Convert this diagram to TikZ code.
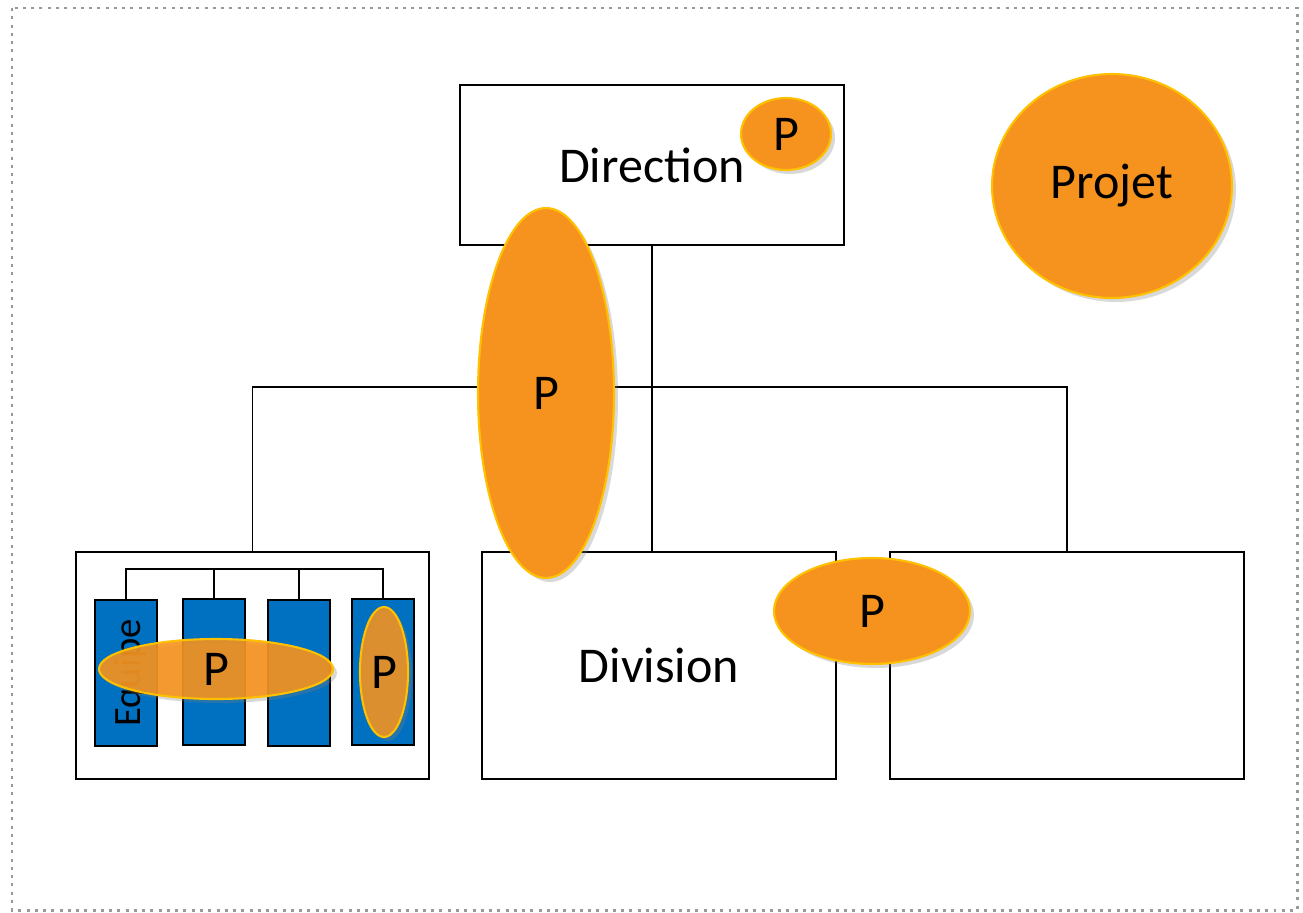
\documentclass[tikz,border=0pt]{standalone}
\usepackage{fontspec}
\setmainfont{Carlito}
\usetikzlibrary{shapes.geometric,shadows}
\definecolor{projorange}{RGB}{246,147,30}
\definecolor{projgold}{RGB}{255,192,0}
\definecolor{teamblue}{RGB}{0,112,192}

\begin{document}
\begin{tikzpicture}[x=0.02cm, y=-0.02cm,
    orgbox/.style={draw, line width=1.1pt, fill=white, font=\fontsize{28.5}{34}\selectfont},
    teambox/.style={draw, line width=1.1pt, fill=teamblue, minimum width=1.24cm, minimum height=2.92cm, inner sep=0pt},
    proj/.style={ellipse, draw=projgold, line width=1.2pt, fill=projorange, inner sep=0pt,
        drop shadow={opacity=0.3, shadow xshift=0.8mm, shadow yshift=-0.8mm},
        font=\fontsize{28.5}{34}\selectfont}]
    \useasboundingbox (0,0) rectangle (1303,913);
    \draw[gray!80, line width=1.7pt, dash pattern=on 1.7pt off 3pt] (12,8) rectangle (1297,910);

    % organisation
    \node[orgbox, minimum width=7.68cm, minimum height=3.2cm] (dir) at (652,165) {\raisebox{-2pt}{Direction}};
    \node[orgbox, minimum width=7.06cm, minimum height=4.54cm] (left) at (252.5,665.5) {};
    \node[orgbox, minimum width=7.08cm, minimum height=4.54cm] (div) at (659,665.5) {\raisebox{-2pt}{Division}};
    \node[orgbox, minimum width=7.08cm, minimum height=4.54cm] (right) at (1067,665.5) {};
    \coordinate (bus) at (652,387);
    \draw[line width=1.1pt] (dir.south) -- (dir.south |- div.north);
    \draw[line width=1.1pt] (left.north) |- (bus) -| (right.north);

    % teams
    \node[teambox] (t1) at (126,673) {};
    \node[teambox] (t2) at (214,672) {};
    \node[teambox] (t3) at (299,673) {};
    \node[teambox] (t4) at (383,672) {};
    \node[rotate=90, font=\fontsize{22}{26}\selectfont] (equipe) at (130,673) {Equipe};
    \coordinate (tbus) at (250,569);
    \draw[line width=1.1pt] (t1.north) |- (tbus) -| (t4.north);
    \draw[line width=1.1pt] (t2.north) -- (t2.north |- tbus);
    \draw[line width=1.1pt] (t3.north) -- (t3.north |- tbus);

    % projects
    \node[proj, minimum width=4.8cm, minimum height=4.48cm] (projet) at (1112,186) {Projet};
    \node[proj, minimum width=1.8cm, minimum height=1.44cm] (pdir) at (786,134) {P};
    \node[proj, minimum width=2.72cm, minimum height=7.4cm] (pbig) at (546,393) {P};
    \node[proj, minimum width=3.92cm, minimum height=2.12cm] (pdiv) at (872,611) {P};
    \node[proj, fill opacity=0.9, text opacity=1, minimum width=4.68cm, minimum height=1.2cm] (pteam) at (216,669) {P};
    \node[proj, fill opacity=0.88, text opacity=1, minimum width=0.96cm, minimum height=2.6cm] (pbar) at (384,672) {P};
\end{tikzpicture}
\end{document}
